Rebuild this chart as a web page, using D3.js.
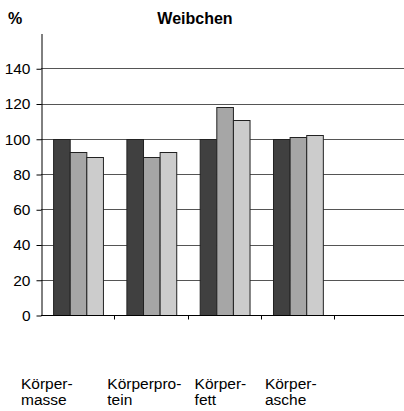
<!DOCTYPE html>
<head>
  <meta charset="utf-8">
  <script src="https://d3js.org/d3.v7.min.js"></script>
  <style>
    body { margin:0; background:#fff; }
    text { font-family: "Liberation Sans", Arial, sans-serif; fill:#000; }
  </style>
</head>
<body>
  <div class="chart"></div>
  <script>
    // data
    var categories = ["Körpermasse", "Körperprotein", "Körperfett", "Körperasche", ""];
    var labelLines = [["Körper-", "masse"], ["Körperpro-", "tein"], ["Körper-", "fett"], ["Körper-", "asche"]];
    var series = ["s1", "s2", "s3"];
    var seriesA = [100, 100, 100, 100];
    var seriesB = [92.2, 89.7, 118.1, 101.1];
    var seriesC = [89.7, 92.2, 110.4, 101.9];
    var yTicks = [0, 20, 40, 60, 80, 100, 120, 140];
    var colors = ["#404040", "#a6a6a6", "#cccccc"];

    var W = 404, H = 411;
    var plotLeft = 41, plotBottom = 315, plotTop = 33;

    var svg = d3.select(".chart").append("svg")
      .attr("width", W).attr("height", H);

    var x = d3.scaleBand()
      .domain(categories)
      .range([plotLeft, plotLeft + 5 * 73.3])
      .padding(0);

    var y = d3.scaleLinear()
      .domain([0, 160])
      .range([plotBottom, plotTop]);

    var xs = d3.scaleBand()
      .domain(series)
      .range([x.bandwidth() * 0.165, x.bandwidth() * 0.845])
      .padding(0);

    // gridlines
    svg.append("g").selectAll("line")
      .data(yTicks.filter(function(d) { return d > 0; }))
      .enter().append("line")
      .attr("x1", plotLeft).attr("x2", W)
      .attr("y1", function(d) { return Math.round(y(d)) + 0.5; })
      .attr("y2", function(d) { return Math.round(y(d)) + 0.5; })
      .attr("stroke", "#555").attr("stroke-width", 1);

    // bars
    var rows = categories.slice(0, 4).map(function(c, i) {
      return {cat: c, vals: [seriesA[i], seriesB[i], seriesC[i]]};
    });
    var groups = svg.append("g").selectAll("g")
      .data(rows).enter().append("g")
      .attr("transform", function(d) { return "translate(" + x(d.cat) + ",0)"; });
    groups.selectAll("rect")
      .data(function(d) { return d.vals.map(function(v, j) { return {s: series[j], v: v, j: j}; }); })
      .enter().append("rect")
      .attr("x", function(d) { return xs(d.s) + 0.5; })
      .attr("y", function(d) { return Math.round(y(d.v)) + 0.5; })
      .attr("width", xs.bandwidth())
      .attr("height", function(d) { return plotBottom - Math.round(y(d.v)); })
      .attr("fill", function(d) { return colors[d.j]; })
      .attr("stroke", "#222").attr("stroke-width", 1);

    // y axis
    var yAxis = svg.append("g")
      .attr("transform", "translate(" + (plotLeft + 0.5) + ",0.5)")
      .call(d3.axisLeft(y).tickValues(yTicks).tickSize(5).tickPadding(6).tickSizeOuter(0));
    yAxis.select(".domain").attr("stroke", "#000");
    yAxis.selectAll("text")
      .attr("font-size", "15.5px")
      .attr("font-family", "Liberation Sans, Arial, sans-serif");

    // x axis, ticks at band boundaries
    var xAxis = svg.append("g")
      .attr("transform", "translate(0," + (plotBottom + 0.5) + ")");
    xAxis.append("line")
      .attr("x1", plotLeft).attr("x2", W)
      .attr("stroke", "#000");
    xAxis.selectAll(".tk")
      .data(categories.slice(1))
      .enter().append("line")
      .attr("class", "tk")
      .attr("x1", function(d) { return Math.round(x(d)) + 0.5; })
      .attr("x2", function(d) { return Math.round(x(d)) + 0.5; })
      .attr("y1", 0).attr("y2", 4)
      .attr("stroke", "#000");

    // category labels (wrapped as in the original)
    var labelDx = [-20, -7, 7, 4];
    var lab = svg.append("g").selectAll("text")
      .data(labelLines).enter().append("text")
      .attr("font-size", "15.5px")
      .attr("transform", function(d, i) { return "translate(" + (x(categories[i]) + labelDx[i]) + ",389)"; });
    lab.selectAll("tspan")
      .data(function(d) { return d; })
      .enter().append("tspan")
      .attr("x", 0)
      .attr("dy", function(d, i) { return i === 0 ? 0 : 16; })
      .text(function(d) { return d; });

    // titles
    svg.append("text")
      .attr("x", 8).attr("y", 24)
      .attr("font-size", "16px").attr("font-weight", "bold")
      .text("%");
    svg.append("text")
      .attr("x", 195).attr("y", 24)
      .attr("text-anchor", "middle")
      .attr("font-size", "16px").attr("font-weight", "bold")
      .text("Weibchen");
  </script>
</body>
